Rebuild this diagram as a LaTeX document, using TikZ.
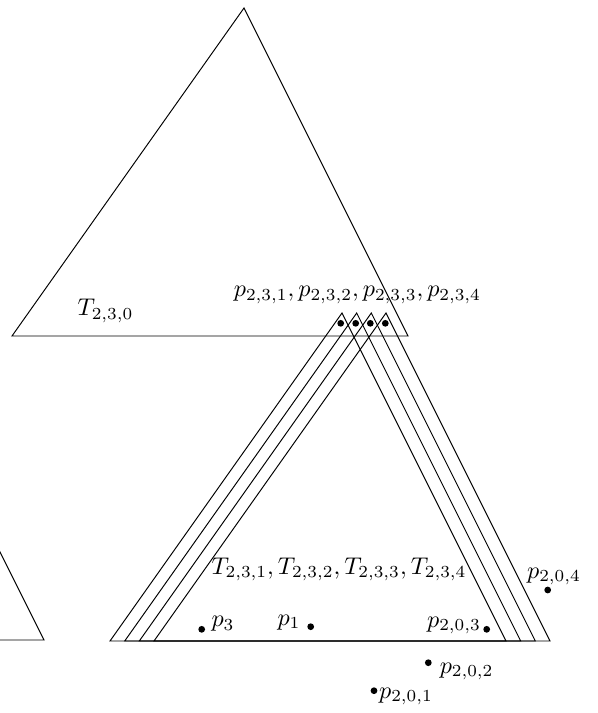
\documentclass[tikz,border=0pt]{standalone}
\begin{document}
\begin{tikzpicture}[x=0.414pt,y=-0.414pt,
  tri/.style={draw=black, line width=0.4pt},
  dot/.style={circle, fill=black, inner sep=0pt, minimum size=2.8pt},
  lab/.style={inner sep=0pt, anchor=base}]
\useasboundingbox (0,0) rectangle (597,713);
\clip (0,0) rectangle (597,713);
% upper triangle T_{2,3,0}
\coordinate (A0) at (244,8);
\coordinate (B0) at (12,336);
\coordinate (C0) at (408,336);
\draw[tri] (A0) -- (B0) -- (C0) -- cycle;
% lower triangles T_{2,3,1..4}
\foreach \s [count=\i] in {98,112.7,127.3,142} {
  \begin{scope}[shift={(\s,305)}]
    \coordinate (A\i) at (244,8);
    \coordinate (B\i) at (12,336);
    \coordinate (C\i) at (408,336);
    \draw[tri] (A\i) -- (B\i) -- (C\i) -- cycle;
  \end{scope}
}
% partial triangle at left
\begin{scope}[shift={(-364,304)}]
  \coordinate (AL) at (244,8);
  \coordinate (BL) at (12,336);
  \coordinate (CL) at (408,336);
  \draw[tri] (AL) -- (BL) -- (CL) -- cycle;
\end{scope}
% points in the small tops
\node[dot] (q1) at (340.7,323.3) {};
\node[dot] (q2) at (355.7,323.3) {};
\node[dot] (q3) at (370.3,323.3) {};
\node[dot] (q4) at (385.3,323.3) {};
% lower points
\node[dot] (p3) at (201.7,629.3) {};
\node[dot] (p1) at (310.7,626.7) {};
\node[dot] (p203) at (486.7,629.3) {};
\node[dot] (p204) at (547.7,590) {};
\node[dot] (p202) at (428.3,662.7) {};
\node[dot] (p201) at (374,690.7) {};
% labels
\node[lab] (lT0) at (105.5,315.7) {$T_{2,3,0}$};
\node[lab] (lq) at (357.5,296.7) {$p_{2,3,1}, p_{2,3,2}, p_{2,3,3}, p_{2,3,4}$};
\node[lab] (lT) at (339,574) {$T_{2,3,1}, T_{2,3,2}, T_{2,3,3}, T_{2,3,4}$};
\node[lab] (lp3) at (223,626.7) {$p_3$};
\node[lab] (lp1) at (289,625) {$p_1$};
\node[lab] (lp203) at (454,627) {$p_{2,0,3}$};
\node[lab] (lp204) at (554,578) {$p_{2,0,4}$};
\node[lab] (lp202) at (466.7,673) {$p_{2,0,2}$};
\node[lab] (lp201) at (406,698) {$p_{2,0,1}$};
\end{tikzpicture}
\end{document}
